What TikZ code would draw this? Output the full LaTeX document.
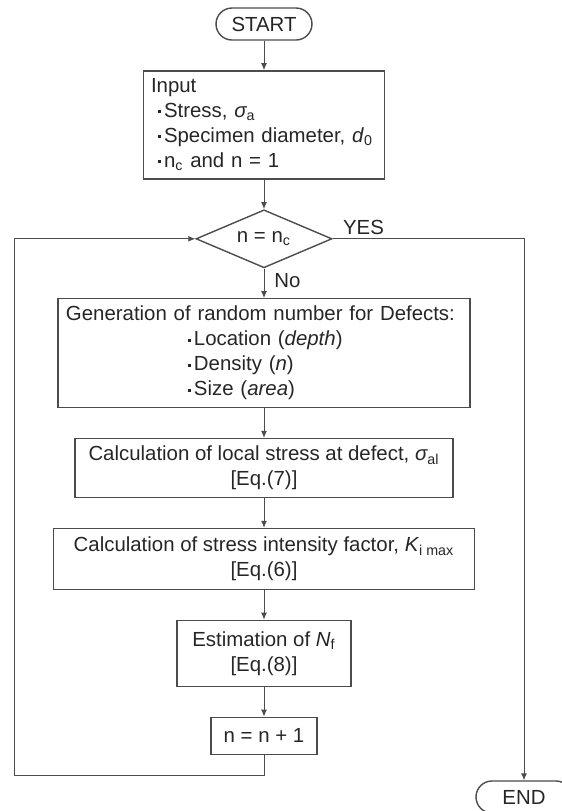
\documentclass[tikz,border=0pt]{standalone}
\usepackage{fontspec}
\setmainfont{Liberation Sans}
\usetikzlibrary{shapes.geometric, arrows.meta, positioning}
\newcommand{\bul}{\makebox[3pt][l]{\rule[2.2pt]{1.5pt}{1.5pt}}}

\begin{document}
\begin{tikzpicture}[
    node distance=14.75pt,
    font=\fontsize{10.2}{12.5}\selectfont,
    box/.style={rectangle, draw=black!70, line width=0.7pt, inner sep=3pt, align=center, text=black!85},
    term/.style={rectangle, draw=black!70, line width=0.7pt, rounded corners=8pt, minimum width=48pt, minimum height=16pt, inner sep=0pt, text=black!85},
    decision/.style={diamond, draw=black!70, line width=0.7pt, aspect=2.3, inner sep=0pt, minimum width=68pt, minimum height=29pt, text=black!85},
    arrow/.style={draw=black!70, line width=0.5pt, -{Latex[length=3.5pt,width=3pt]}}
]
\useasboundingbox (0,0) rectangle (281pt,-405.5pt);
\clip (0,0) rectangle (281pt,-405.5pt);

\node[term] (start) at (132pt,-12pt) {START};
\node[box, below=of start, align=left, text width=113pt, inner xsep=3.75pt, minimum height=54pt] (input) {Input\\
\hspace*{3.5pt}\bul Stress, {\itshape σ}\textsubscript{a}\\
\hspace*{3.5pt}\bul Specimen diameter, \textit{d}\textsubscript{0}\\
\hspace*{3.5pt}\bul n\textsubscript{c} and n = 1};
\node[decision, below=of input] (check) {n = n\textsubscript{c}};
\node[box, below=of check, align=left, text width=198pt, inner xsep=4pt, minimum height=54.5pt] (gen) {Generation of random number for Defects:\\
\hspace*{61pt}\bul Location (\textit{depth})\\
\hspace*{61pt}\bul Density (\textit{n})\\
\hspace*{61pt}\bul Size (\textit{area})};
\node[box, below=of gen, minimum width=189pt, minimum height=29.5pt] (local) {Calculation of local stress at defect, {\itshape σ}\textsubscript{al}\\{}[Eq.(7)]};
\node[box, below=of local, minimum width=210.5pt, minimum height=30.5pt] (sif) {Calculation of stress intensity factor, \textit{K}\textsubscript{i max}\\{}[Eq.(6)]};
\node[box, below=of sif, minimum width=87pt, minimum height=33pt] (est) {Estimation of \textit{N}\textsubscript{f}\\{}[Eq.(8)]};
\node[box, below=of est, minimum width=53pt, minimum height=18.5pt] (inc) {n = n + 1};
\node[term] (end) at (262pt,-398.5pt) {END};

\coordinate (loopbot) at (7pt,-387.5pt);

\draw[arrow] (start) -- (input);
\draw[arrow] (input) -- (check);
\draw[arrow] (check) -- (gen);
\draw[arrow] (gen) -- (local);
\draw[arrow] (local) -- (sif);
\draw[arrow] (sif) -- (est);
\draw[arrow] (est) -- (inc);
\draw[arrow] (inc.south) |- (loopbot) |- (check.west);
\draw[arrow] (check.east) -| (end.north);

\node[anchor=south west, inner sep=0pt, text=black!85] (yes) at ([xshift=5pt, yshift=2pt]check.east) {YES};
\node[anchor=north west, inner sep=0pt, text=black!85] (no) at ([xshift=5pt, yshift=-2.5pt]check.south) {No};

\end{tikzpicture}
\end{document}
